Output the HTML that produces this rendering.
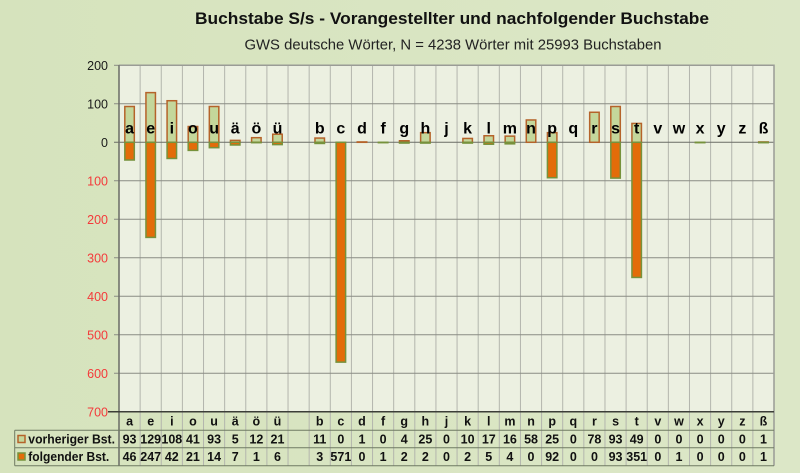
<!DOCTYPE html>
<html><head><meta charset="utf-8"><style>
html,body{margin:0;padding:0;width:800px;height:473px;overflow:hidden;}
svg{display:block;font-family:"Liberation Sans",Arial,sans-serif;}
</style></head><body>
<svg width="800" height="473" viewBox="0 0 800 473" xmlns="http://www.w3.org/2000/svg">
<defs>
<linearGradient id="bg" x1="0" y1="0" x2="1" y2="0">
<stop offset="0" stop-color="#d6e3bd"/><stop offset="1" stop-color="#dce7c7"/>
</linearGradient>
</defs>
<rect x="0" y="0" width="800" height="473" fill="url(#bg)"/>
<!-- title -->
<text x="452" y="24" text-anchor="middle" font-size="17" font-weight="bold" fill="#111" textLength="514" lengthAdjust="spacingAndGlyphs">Buchstabe S/s - Vorangestellter und nachfolgender Buchstabe</text>
<text x="453" y="49.5" text-anchor="middle" font-size="15" fill="#222" textLength="417" lengthAdjust="spacingAndGlyphs">GWS deutsche Wörter, N = 4238 Wörter mit 25993 Buchstaben</text>
<!-- plot area -->
<rect x="119" y="65.3" width="655" height="346.5" fill="#ecf0e1"/>
<g stroke="#b3b5ad" stroke-width="1">
<line x1="140.13" y1="65.3" x2="140.13" y2="465.7"/><line x1="161.26" y1="65.3" x2="161.26" y2="465.7"/><line x1="182.39" y1="65.3" x2="182.39" y2="465.7"/><line x1="203.52" y1="65.3" x2="203.52" y2="465.7"/><line x1="224.65" y1="65.3" x2="224.65" y2="465.7"/><line x1="245.77" y1="65.3" x2="245.77" y2="465.7"/><line x1="266.90" y1="65.3" x2="266.90" y2="465.7"/><line x1="288.03" y1="65.3" x2="288.03" y2="465.7"/><line x1="309.16" y1="65.3" x2="309.16" y2="465.7"/><line x1="330.29" y1="65.3" x2="330.29" y2="465.7"/><line x1="351.42" y1="65.3" x2="351.42" y2="465.7"/><line x1="372.55" y1="65.3" x2="372.55" y2="465.7"/><line x1="393.68" y1="65.3" x2="393.68" y2="465.7"/><line x1="414.81" y1="65.3" x2="414.81" y2="465.7"/><line x1="435.94" y1="65.3" x2="435.94" y2="465.7"/><line x1="457.06" y1="65.3" x2="457.06" y2="465.7"/><line x1="478.19" y1="65.3" x2="478.19" y2="465.7"/><line x1="499.32" y1="65.3" x2="499.32" y2="465.7"/><line x1="520.45" y1="65.3" x2="520.45" y2="465.7"/><line x1="541.58" y1="65.3" x2="541.58" y2="465.7"/><line x1="562.71" y1="65.3" x2="562.71" y2="465.7"/><line x1="583.84" y1="65.3" x2="583.84" y2="465.7"/><line x1="604.97" y1="65.3" x2="604.97" y2="465.7"/><line x1="626.10" y1="65.3" x2="626.10" y2="465.7"/><line x1="647.23" y1="65.3" x2="647.23" y2="465.7"/><line x1="668.35" y1="65.3" x2="668.35" y2="465.7"/><line x1="689.48" y1="65.3" x2="689.48" y2="465.7"/><line x1="710.61" y1="65.3" x2="710.61" y2="465.7"/><line x1="731.74" y1="65.3" x2="731.74" y2="465.7"/><line x1="752.87" y1="65.3" x2="752.87" y2="465.7"/>
</g>
<g stroke="#8a8c84" stroke-width="1">
<line x1="114" y1="103.8" x2="774" y2="103.8"/>
<line x1="114" y1="180.8" x2="774" y2="180.8"/>
<line x1="114" y1="219.3" x2="774" y2="219.3"/>
<line x1="114" y1="257.8" x2="774" y2="257.8"/>
<line x1="114" y1="296.3" x2="774" y2="296.3"/>
<line x1="114" y1="334.8" x2="774" y2="334.8"/>
<line x1="114" y1="373.3" x2="774" y2="373.3"/>
<line x1="114" y1="65.3" x2="119" y2="65.3"/>
</g>
<line x1="114" y1="142.3" x2="774" y2="142.3" stroke="#6a6c66" stroke-width="1"/>
<!-- plot border -->
<polyline points="119,65.3 774,65.3 774,465.7" fill="none" stroke="#9a9c96" stroke-width="1.5"/>
<line x1="119" y1="65.3" x2="119" y2="465.7" stroke="#6a6c66" stroke-width="1.5"/>
<line x1="108" y1="411.8" x2="774" y2="411.8" stroke="#3c3e38" stroke-width="1.5"/>
<!-- positive bars -->
<g fill="#c4d79b" stroke="#b5632a" stroke-width="1.5">
<rect x="124.81" y="106.5" width="9.5" height="35.8"/>
<rect x="145.94" y="92.63" width="9.5" height="49.67"/>
<rect x="167.07" y="100.72" width="9.5" height="41.58"/>
<rect x="188.2" y="126.51" width="9.5" height="15.79"/>
<rect x="209.33" y="106.5" width="9.5" height="35.8"/>
<rect x="230.46" y="140.37" width="9.5" height="1.93"/>
<rect x="251.59" y="137.68" width="9.5" height="4.62"/>
<rect x="272.72" y="134.21" width="9.5" height="8.09"/>
<rect x="314.98" y="138.06" width="9.5" height="4.24"/>
<rect x="357.24" y="141.92" width="9.5" height="0.38"/>
<rect x="399.5" y="140.76" width="9.5" height="1.54"/>
<rect x="420.63" y="132.67" width="9.5" height="9.63"/>
<rect x="462.89" y="138.45" width="9.5" height="3.85"/>
<rect x="484.02" y="135.75" width="9.5" height="6.55"/>
<rect x="505.15" y="136.14" width="9.5" height="6.16"/>
<rect x="526.28" y="119.97" width="9.5" height="22.33"/>
<rect x="547.41" y="132.67" width="9.5" height="9.63"/>
<rect x="589.67" y="112.27" width="9.5" height="30.03"/>
<rect x="610.8" y="106.5" width="9.5" height="35.8"/>
<rect x="631.93" y="123.43" width="9.5" height="18.87"/>
<rect x="758.71" y="141.92" width="9.5" height="0.38"/>
</g>
<!-- negative bars -->
<g fill="#e36c09" stroke="#76923c" stroke-width="1.5">
<rect x="124.81" y="142.3" width="9.5" height="17.71"/>
<rect x="145.94" y="142.3" width="9.5" height="95.1"/>
<rect x="167.07" y="142.3" width="9.5" height="16.17"/>
<rect x="188.2" y="142.3" width="9.5" height="8.09"/>
<rect x="209.33" y="142.3" width="9.5" height="5.39"/>
<rect x="230.46" y="142.3" width="9.5" height="2.7"/>
<rect x="251.59" y="142.3" width="9.5" height="0.38"/>
<rect x="272.72" y="142.3" width="9.5" height="2.31"/>
<rect x="314.98" y="142.3" width="9.5" height="1.16"/>
<rect x="336.11" y="142.3" width="9.5" height="219.84"/>
<rect x="378.37" y="142.3" width="9.5" height="0.38"/>
<rect x="399.5" y="142.3" width="9.5" height="0.77"/>
<rect x="420.63" y="142.3" width="9.5" height="0.77"/>
<rect x="462.89" y="142.3" width="9.5" height="0.77"/>
<rect x="484.02" y="142.3" width="9.5" height="1.93"/>
<rect x="505.15" y="142.3" width="9.5" height="1.54"/>
<rect x="547.41" y="142.3" width="9.5" height="35.42"/>
<rect x="610.8" y="142.3" width="9.5" height="35.8"/>
<rect x="631.93" y="142.3" width="9.5" height="135.14"/>
<rect x="695.32" y="142.3" width="9.5" height="0.38"/>
<rect x="758.71" y="142.3" width="9.5" height="0.38"/>
</g>
<!-- letter labels in plot -->
<g font-size="16" font-weight="bold" fill="#000" text-anchor="middle">
<text x="129.56" y="133.3">a</text><text x="150.69" y="133.3">e</text><text x="171.82" y="133.3">i</text><text x="192.95" y="133.3">o</text><text x="214.08" y="133.3">u</text><text x="235.21" y="133.3">ä</text><text x="256.34" y="133.3">ö</text><text x="277.47" y="133.3">ü</text>
<text x="319.73" y="133.3">b</text><text x="340.86" y="133.3">c</text><text x="361.99" y="133.3">d</text><text x="383.12" y="133.3">f</text><text x="404.25" y="133.3">g</text><text x="425.38" y="133.3">h</text><text x="446.51" y="133.3">j</text><text x="467.64" y="133.3">k</text><text x="488.77" y="133.3">l</text><text x="509.90" y="133.3">m</text><text x="531.03" y="133.3">n</text><text x="552.16" y="133.3">p</text><text x="573.29" y="133.3">q</text><text x="594.42" y="133.3">r</text><text x="615.55" y="133.3">s</text><text x="636.68" y="133.3">t</text><text x="657.81" y="133.3">v</text><text x="678.94" y="133.3">w</text><text x="700.07" y="133.3">x</text><text x="721.20" y="133.3">y</text><text x="742.33" y="133.3">z</text><text x="763.46" y="133.3">ß</text>
</g>
<!-- y axis labels -->
<g font-size="12.5" text-anchor="end">
<text x="108" y="69.8" fill="#1a1a1a">200</text>
<text x="108" y="108.3" fill="#1a1a1a">100</text>
<text x="108" y="146.8" fill="#1a1a1a">0</text>
<g fill="#f43a3a">
<text x="108" y="185.3">100</text>
<text x="108" y="223.8">200</text>
<text x="108" y="262.3">300</text>
<text x="108" y="300.8">400</text>
<text x="108" y="339.3">500</text>
<text x="108" y="377.8">600</text>
<text x="108" y="416.3">700</text>
</g>
</g>
<!-- data table -->
<g stroke="#6f7a62" stroke-width="1" fill="none">
<line x1="14.7" y1="430.3" x2="774" y2="430.3"/>
<line x1="14.7" y1="447.7" x2="774" y2="447.7"/>
<line x1="14.7" y1="465.7" x2="774" y2="465.7"/>
<line x1="14.7" y1="430.3" x2="14.7" y2="465.7"/>
</g>
<g font-size="12.5" font-weight="bold" fill="#111" text-anchor="middle">
<text x="129.56" y="425.5">a</text><text x="150.69" y="425.5">e</text><text x="171.82" y="425.5">i</text><text x="192.95" y="425.5">o</text><text x="214.08" y="425.5">u</text><text x="235.21" y="425.5">ä</text><text x="256.34" y="425.5">ö</text><text x="277.47" y="425.5">ü</text>
<text x="319.73" y="425.5">b</text><text x="340.86" y="425.5">c</text><text x="361.99" y="425.5">d</text><text x="383.12" y="425.5">f</text><text x="404.25" y="425.5">g</text><text x="425.38" y="425.5">h</text><text x="446.51" y="425.5">j</text><text x="467.64" y="425.5">k</text><text x="488.77" y="425.5">l</text><text x="509.90" y="425.5">m</text><text x="531.03" y="425.5">n</text><text x="552.16" y="425.5">p</text><text x="573.29" y="425.5">q</text><text x="594.42" y="425.5">r</text><text x="615.55" y="425.5">s</text><text x="636.68" y="425.5">t</text><text x="657.81" y="425.5">v</text><text x="678.94" y="425.5">w</text><text x="700.07" y="425.5">x</text><text x="721.20" y="425.5">y</text><text x="742.33" y="425.5">z</text><text x="763.46" y="425.5">ß</text>
<!-- row vorheriger -->
<text x="129.56" y="443.3">93</text><text x="150.69" y="443.3">129</text><text x="171.82" y="443.3">108</text><text x="192.95" y="443.3">41</text><text x="214.08" y="443.3">93</text><text x="235.21" y="443.3">5</text><text x="256.34" y="443.3">12</text><text x="277.47" y="443.3">21</text>
<text x="319.73" y="443.3">11</text><text x="340.86" y="443.3">0</text><text x="361.99" y="443.3">1</text><text x="383.12" y="443.3">0</text><text x="404.25" y="443.3">4</text><text x="425.38" y="443.3">25</text><text x="446.51" y="443.3">0</text><text x="467.64" y="443.3">10</text><text x="488.77" y="443.3">17</text><text x="509.90" y="443.3">16</text><text x="531.03" y="443.3">58</text><text x="552.16" y="443.3">25</text><text x="573.29" y="443.3">0</text><text x="594.42" y="443.3">78</text><text x="615.55" y="443.3">93</text><text x="636.68" y="443.3">49</text><text x="657.81" y="443.3">0</text><text x="678.94" y="443.3">0</text><text x="700.07" y="443.3">0</text><text x="721.20" y="443.3">0</text><text x="742.33" y="443.3">0</text><text x="763.46" y="443.3">1</text>
<!-- row folgender -->
<text x="129.56" y="461">46</text><text x="150.69" y="461">247</text><text x="171.82" y="461">42</text><text x="192.95" y="461">21</text><text x="214.08" y="461">14</text><text x="235.21" y="461">7</text><text x="256.34" y="461">1</text><text x="277.47" y="461">6</text>
<text x="319.73" y="461">3</text><text x="340.86" y="461">571</text><text x="361.99" y="461">0</text><text x="383.12" y="461">1</text><text x="404.25" y="461">2</text><text x="425.38" y="461">2</text><text x="446.51" y="461">0</text><text x="467.64" y="461">2</text><text x="488.77" y="461">5</text><text x="509.90" y="461">4</text><text x="531.03" y="461">0</text><text x="552.16" y="461">92</text><text x="573.29" y="461">0</text><text x="594.42" y="461">0</text><text x="615.55" y="461">93</text><text x="636.68" y="461">351</text><text x="657.81" y="461">0</text><text x="678.94" y="461">1</text><text x="700.07" y="461">0</text><text x="721.20" y="461">0</text><text x="742.33" y="461">0</text><text x="763.46" y="461">1</text>
</g>
<!-- legend keys -->
<rect x="18" y="435.5" width="7" height="7" fill="#c4d79b" stroke="#b5632a" stroke-width="1.5"/>
<rect x="18" y="453" width="7" height="7" fill="#e36c09" stroke="#76923c" stroke-width="1.5"/>
<g font-size="12.5" font-weight="bold" fill="#111">
<text x="28.3" y="443.3" textLength="86.7" lengthAdjust="spacingAndGlyphs">vorheriger Bst.</text>
<text x="28.3" y="461" textLength="81" lengthAdjust="spacingAndGlyphs">folgender Bst.</text>
</g>
</svg>
</body></html>
